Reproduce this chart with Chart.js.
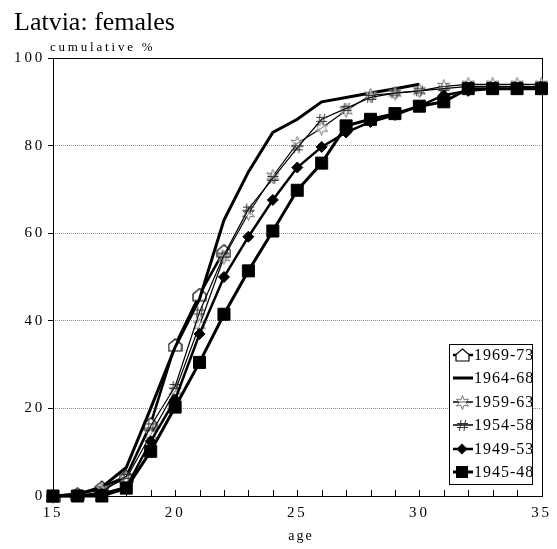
<!DOCTYPE html>
<html>
<head>
<meta charset="utf-8">
<script src="https://cdn.jsdelivr.net/npm/chart.js@4.4.1/dist/chart.umd.min.js"></script>
<style>
  html, body { margin: 0; padding: 0; background: #fff; }
  canvas { display: block; }
</style>
</head>
<body>
<canvas id="myChart" width="557" height="549"></canvas>
<script>
// data (cumulative % by age)
const ages = [15, 16, 17, 18, 19, 20, 21, 22, 23, 24, 25, 26, 27, 28, 29, 30, 31, 32, 33, 34, 35];
const cohorts = ["1969-73", "1964-68", "1959-63", "1954-58", "1949-53", "1945-48"];
const c1969 = [0, 0.5, 2, 4.5, 16.5, 34.5, 46, 56];
const c1964 = [0, 0.3, 2, 6.5, 20, 34, 45, 63, 74, 83, 86, 90, 91, 92, 93, 94];
const c1959 = [0, 0.3, 1.5, 4, 14, 24, 39, 54.5, 64.5, 73, 80.5, 84, 88, 91.5, 92, 92.5, 93.5, 94, 94, 94, 94];
const c1954 = [0, 0, 1, 4.5, 16, 25, 42, 55, 65.5, 72.5, 79.5, 86, 88.5, 91, 92, 92.5, 93, 93.5, 93.5, 93.5, 93.5];
const c1949 = [0, 0, 0.5, 2, 12.5, 22, 37, 50, 59.2, 67.6, 75, 79.7, 83, 85.4, 87, 89, 91.5, 92.5, 93, 93, 93.5];
const c1945 = [0, 0, 0, 1.8, 10.2, 20.3, 30.5, 41.5, 51.4, 60.5, 69.8, 76, 84.5, 86, 87.3, 89, 90, 93, 93, 93, 93];
const yTicks = [0, 20, 40, 60, 80, 100];

const serif = "'Liberation Serif', 'Times New Roman', serif";

// small marker images
function makeMarker(w, h, draw) {
  const c = document.createElement("canvas");
  c.width = w;
  c.height = h;
  draw(c.getContext("2d"));
  return c;
}

const houseMark = makeMarker(15, 14, (g) => {
  g.beginPath();
  g.moveTo(7.5, 1);
  g.lineTo(14, 6.5);
  g.lineTo(14, 13);
  g.lineTo(1, 13);
  g.lineTo(1, 6.5);
  g.closePath();
  g.fillStyle = "#fff";
  g.fill();
  g.strokeStyle = "#000";
  g.lineWidth = 1.2;
  g.stroke();
});

const starMark = makeMarker(15, 15, (g) => {
  g.beginPath();
  for (let i = 0; i < 12; i++) {
    const r = i % 2 === 0 ? 7 : 3.2;
    const a = -Math.PI / 2 + (i * Math.PI) / 6;
    const px = 7.5 + r * Math.cos(a);
    const py = 7.5 + r * Math.sin(a);
    if (i === 0) g.moveTo(px, py);
    else g.lineTo(px, py);
  }
  g.closePath();
  g.fillStyle = "rgba(255,255,255,0.6)";
  g.fill();
  g.strokeStyle = "#777";
  g.lineWidth = 1;
  g.stroke();
});

const hashMark = makeMarker(13, 13, (g) => {
  g.strokeStyle = "#333";
  g.lineWidth = 1;
  g.beginPath();
  g.moveTo(5, 1); g.lineTo(3.5, 12);
  g.moveTo(9.5, 1); g.lineTo(8, 12);
  g.moveTo(1, 4.5); g.lineTo(12, 4.5);
  g.moveTo(1, 8.5); g.lineTo(12, 8.5);
  g.stroke();
});

const styles = [
  { data: c1969, pointStyle: houseMark, radius: 7, width: 2.5 },
  { data: c1964, pointStyle: false, radius: 0, width: 3 },
  { data: c1959, pointStyle: starMark, radius: 7, width: 1.2 },
  { data: c1954, pointStyle: hashMark, radius: 6, width: 1.2 },
  { data: c1949, pointStyle: "rectRot", radius: 5.5, width: 2.5 },
  { data: c1945, pointStyle: "rect", radius: 8.5, width: 3 },
];

function toPoints(values) {
  return values.map((v, i) => ({ x: ages[i], y: v }));
}

// last cohort drawn on top, like the original
const datasets = cohorts.map((name, i) => ({
  label: name,
  data: toPoints(styles[i].data),
  order: cohorts.length - i,
  borderColor: "#000",
  backgroundColor: "#000",
  borderWidth: styles[i].width,
  pointStyle: styles[i].pointStyle,
  pointRadius: styles[i].radius,
  pointBorderWidth: 1,
  pointBackgroundColor: "#000",
  pointBorderColor: "#000",
  tension: 0,
  clip: false,
}));

// marker for the legend
function drawMarker(ctx, st, x, y) {
  if (!st.pointStyle) return;
  if (st.pointStyle instanceof HTMLCanvasElement) {
    ctx.drawImage(st.pointStyle, Math.round(x - st.pointStyle.width / 2), Math.round(y - st.pointStyle.height / 2));
    return;
  }
  ctx.fillStyle = "#000";
  ctx.beginPath();
  if (st.pointStyle === "rect") {
    const s = st.radius * Math.SQRT1_2;
    ctx.rect(x - s, y - s, 2 * s, 2 * s);
  } else {
    const r = st.radius;
    ctx.moveTo(x, y - r);
    ctx.lineTo(x + r, y);
    ctx.lineTo(x, y + r);
    ctx.lineTo(x - r, y);
    ctx.closePath();
  }
  ctx.fill();
}

const decor = {
  id: "decor",
  beforeDraw(chart) {
    const ctx = chart.ctx;
    ctx.save();
    ctx.fillStyle = "#fff";
    ctx.fillRect(0, 0, chart.width, chart.height);
    ctx.restore();
    ctx.letterSpacing = "2.8px";
  },
  beforeDatasetsDraw(chart) {
    const { ctx, chartArea: a, scales } = chart;
    ctx.save();
    ctx.strokeStyle = "#000";
    ctx.lineWidth = 1;
    // frame
    ctx.strokeRect(Math.round(a.left) + 0.5, Math.round(a.top) + 0.5, Math.round(a.right - a.left), Math.round(a.bottom - a.top));
    // inward ticks on the age axis
    ctx.beginPath();
    ages.forEach((age) => {
      const px = Math.round(scales.x.getPixelForValue(age)) + 0.5;
      ctx.moveTo(px, a.bottom);
      ctx.lineTo(px, a.bottom - 6);
    });
    ctx.stroke();
    ctx.restore();
  },
  afterDraw(chart) {
    const { ctx } = chart;
    ctx.save();
    ctx.fillStyle = "#000";
    ctx.textBaseline = "alphabetic";

    ctx.letterSpacing = "0px";
    ctx.font = "26px " + serif;
    ctx.fillText("Latvia: females", 14, 30);

    ctx.letterSpacing = "2.8px";
    ctx.font = "13px " + serif;
    ctx.fillText("cumulative %", 50, 51);

    ctx.letterSpacing = "2px";
    ctx.font = "14px " + serif;
    ctx.textAlign = "center";
    ctx.fillText("age", 301, 540);
    ctx.textAlign = "left";

    // legend box
    const bx = 449, by = 344, bw = 83, bh = 140;
    ctx.fillStyle = "#fff";
    ctx.fillRect(bx, by, bw, bh);
    ctx.letterSpacing = "1px";
    ctx.font = "16px " + serif;
    ctx.textBaseline = "middle";
    cohorts.forEach((name, i) => {
      const st = styles[i];
      const y = Math.round(355 + i * 23.4);
      ctx.strokeStyle = "#000";
      ctx.lineWidth = Math.max(st.width, 1.5);
      ctx.beginPath();
      ctx.moveTo(453, y);
      ctx.lineTo(473, y);
      ctx.stroke();
      drawMarker(ctx, st, 462, y);
      ctx.fillStyle = "#000";
      ctx.fillText(name, 474, y + 1);
    });
    ctx.strokeStyle = "#000";
    ctx.lineWidth = 1;
    ctx.strokeRect(bx + 0.5, by + 0.5, bw, bh);
    ctx.restore();
    ctx.letterSpacing = "0px";
  },
};

new Chart("myChart", {
  type: "line",
  data: { datasets },
  options: {
    responsive: false,
    animation: false,
    devicePixelRatio: 1,
    layout: { padding: { top: 58, right: 12, bottom: 0, left: 0 } },
    plugins: {
      legend: { display: false },
      title: { display: false },
      tooltip: { enabled: false },
    },
    scales: {
      x: {
        type: "linear",
        min: 15,
        max: 35,
        afterFit: (s) => { s.height = 53; },
        grid: { display: false, drawTicks: false },
        border: { display: false },
        ticks: {
          stepSize: 1,
          autoSkip: false,
          maxRotation: 0,
          padding: 8,
          color: "#000",
          font: { family: serif, size: 15 },
          callback: (v) => (v % 5 === 0 ? v : ""),
        },
      },
      y: {
        min: 0,
        max: 100,
        afterFit: (s) => { s.width = 53; },
        afterBuildTicks: (s) => { s.ticks = yTicks.map((v) => ({ value: v })); },
        grid: {
          color: (c) => (c.tick && c.tick.value > 0 && c.tick.value < 100 ? "#8a8a8a" : "rgba(0,0,0,0)"),
          tickColor: "#000",
          tickLength: 5,
          lineWidth: 1,
        },
        border: { display: false, dash: [1, 1] },
        ticks: {
          padding: 3,
          color: "#000",
          font: { family: serif, size: 15 },
        },
      },
    },
  },
  plugins: [decor],
});
</script>
</body>
</html>
